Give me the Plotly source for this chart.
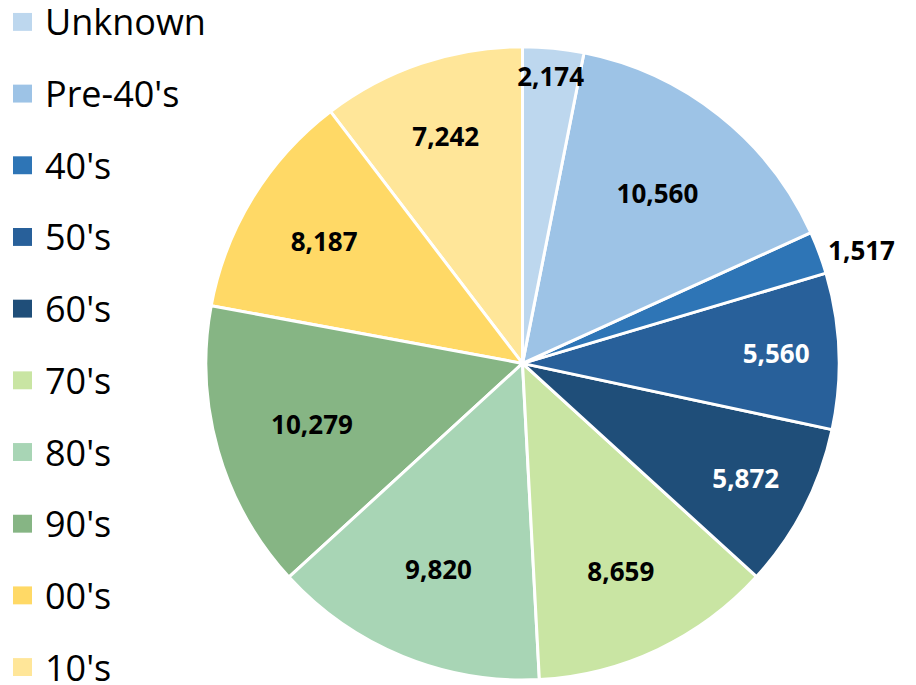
import plotly.graph_objects as go

categories = ["Unknown", "Pre-40's", "40's", "50's", "60's", "70's", "80's", "90's", "00's", "10's"]
values = [2174, 10560, 1517, 5560, 5872, 8659, 9820, 10279, 8187, 7242]
colors = ["#BDD7EE", "#9DC3E6", "#2E75B6", "#28609A", "#1F4E79",
          "#C9E5A3", "#A8D5B5", "#86B584", "#FFD966", "#FFE699"]
label_colors = ["black", "black", "black", "white", "white",
                "black", "black", "black", "black", "black"]
text_positions = ["inside", "inside", "outside", "inside", "inside",
                  "inside", "inside", "inside", "inside", "inside"]

W, H = 916, 685
cx, cy, r = 522.5, 365, 318

# Draw slices in reverse order (counterclockwise) so the first slice's label sits on top
rev = lambda a: list(a)[::-1]
first_angle = values[-1] / sum(values) * 360

fig = go.Figure(go.Pie(
    labels=rev(categories),
    values=rev(values),
    sort=False,
    direction="counterclockwise",
    rotation=-first_angle,
    marker=dict(colors=rev(colors), line=dict(color="white", width=3)),
    texttemplate="%{value:,}",
    textposition=rev(text_positions),
    insidetextorientation="horizontal",
    textfont=dict(family="Open Sans", size=26, color=rev(label_colors), weight="bold"),
    outsidetextfont=dict(family="Open Sans", size=26, color="black", weight="bold"),
    showlegend=False,
    hoverinfo="label+value",
    domain=dict(x=[(cx - r) / W, (cx + r) / W], y=[1 - (cy + r) / H, 1 - (cy - r) / H]),
))

# Manual legend
row0, step = 22, 72
for i, (cat, col) in enumerate(zip(categories, colors)):
    yc = row0 + i * step
    fig.add_shape(type="rect", xref="paper", yref="paper",
                  x0=13 / W, x1=32 / W, y0=1 - (yc + 9) / H, y1=1 - (yc - 9) / H,
                  fillcolor=col, line=dict(width=0))
    fig.add_annotation(x=43 / W, y=1 - yc / H, xref="paper", yref="paper",
                       text=cat, showarrow=False, xanchor="left", yanchor="middle",
                       font=dict(family="Open Sans", size=36, color="black"))

fig.update_layout(
    width=W, height=H,
    margin=dict(l=0, r=0, t=0, b=0),
    paper_bgcolor="white", plot_bgcolor="white",
    uniformtext=dict(minsize=26, mode="show"),
)

fig.write_html("out.html")
